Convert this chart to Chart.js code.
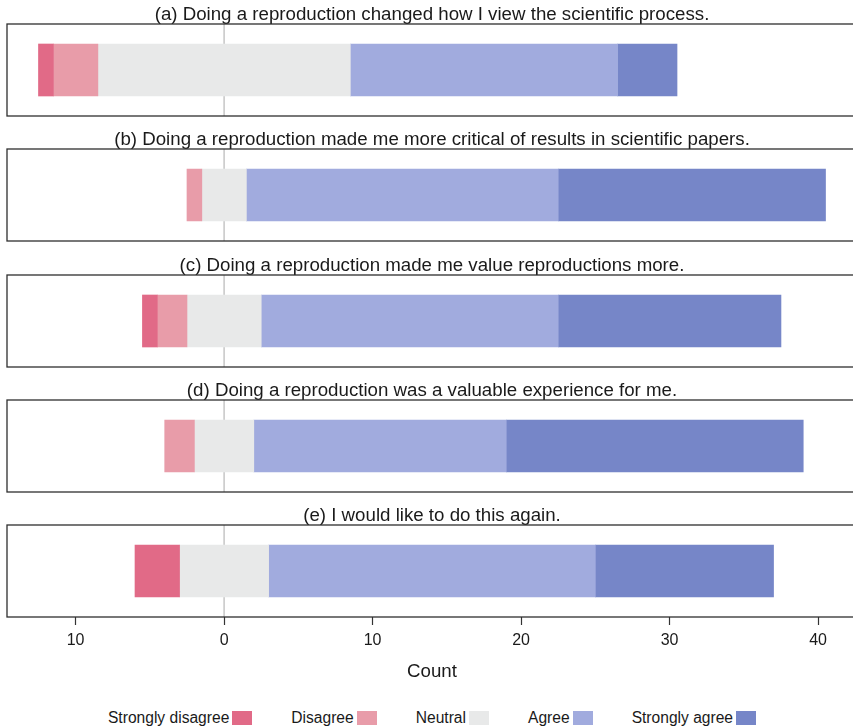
<!DOCTYPE html>
<html><head><meta charset="utf-8">
<script src="https://cdn.jsdelivr.net/npm/chart.js@4"></script>
<style>
html,body{margin:0;padding:0;width:853px;height:728px;overflow:hidden;background:#fff;}
.panel{position:absolute;left:0;width:870px;}
#legend{position:absolute;left:0;top:709px;width:864px;display:flex;justify-content:center;gap:39px;font:15.6px "Liberation Sans",Arial,sans-serif;color:#1a1a1a;line-height:18px;}
.item{display:flex;align-items:center;}
.sw{width:20px;height:14px;margin-left:3px;display:inline-block;}
</style></head><body>
<div id="wrap"></div>
<div id="legend"></div>
<script>
// ---- data ----
const categories = [
  '(a) Doing a reproduction changed how I view the scientific process.',
  '(b) Doing a reproduction made me more critical of results in scientific papers.',
  '(c) Doing a reproduction made me value reproductions more.',
  '(d) Doing a reproduction was a valuable experience for me.',
  '(e) I would like to do this again.'
];
const levels = ['Strongly disagree', 'Disagree', 'Neutral', 'Agree', 'Strongly agree'];
const stronglyDisagree = [1, 0, 1, 0, 3];
const disagree         = [3, 1, 2, 2, 0];
const neutral          = [17, 3, 5, 4, 6];
const agree            = [18, 21, 20, 17, 22];
const stronglyAgree    = [4, 18, 15, 20, 12];
const xTicks = [-10, 0, 10, 20, 30, 40];
const axisTitle = 'Count';

// ---- style ----
const colors = ['#e16a87', '#e89ca9', '#e8e9e9', '#a1abde', '#7686c8'];
const FONT = '"Liberation Sans", Arial, Helvetica, sans-serif';
const TXT = '#1a1a1a';

// x range like R (4% expansion of data range)
let lo = 0, hi = 0;
categories.forEach((c, i) => {
  lo = Math.min(lo, -(neutral[i] / 2 + disagree[i] + stronglyDisagree[i]));
  hi = Math.max(hi, neutral[i] / 2 + agree[i] + stronglyAgree[i]);
});
const ext = (hi - lo) * 0.04;
const xMin = lo - ext, xMax = hi + ext;

function segments(i) {
  const h = neutral[i] / 2;
  const counts = [stronglyDisagree[i], disagree[i], neutral[i], agree[i], stronglyAgree[i]];
  const seg = [
    [-(h + disagree[i] + stronglyDisagree[i]), -(h + disagree[i])],
    [-(h + disagree[i]), -h],
    [-h, h],
    [h, h + agree[i]],
    [h + agree[i], h + agree[i] + stronglyAgree[i]]
  ];
  return seg.map((s, k) => counts[k] > 0 ? s : null);
}

const frame = {
  id: 'frame',
  beforeDatasetsDraw(chart) {
    const {ctx, chartArea: a, scales: {x}} = chart;
    const px = x.getPixelForValue(0);
    ctx.save();
    ctx.strokeStyle = '#c6c6c6';
    ctx.lineWidth = 1.5;
    ctx.beginPath(); ctx.moveTo(px, a.top); ctx.lineTo(px, a.bottom); ctx.stroke();
    ctx.restore();
  },
  afterDraw(chart) {
    const {ctx, chartArea: a} = chart;
    ctx.save();
    ctx.strokeStyle = '#2e2e2e';
    ctx.lineWidth = 1.3;
    ctx.strokeRect(a.left, a.top, a.right - a.left, a.bottom - a.top);
    ctx.restore();
  }
};

const wrap = document.getElementById('wrap');
categories.forEach((title, i) => {
  const last = i === categories.length - 1;
  const div = document.createElement('div');
  div.className = 'panel';
  const boxTop = 24 + 125.25 * i;
  div.style.top = (boxTop - 24) + 'px';
  const h = last ? 196 : 118;
  const cv = document.createElement('canvas');
  cv.width = 870; cv.height = h;
  cv.style.width = '870px'; cv.style.height = h + 'px';
  div.appendChild(cv);
  wrap.appendChild(div);
  const seg = segments(i);
  new Chart(cv, {
    type: 'bar',
    data: {
      labels: [''],
      datasets: levels.map((lv, k) => ({
        label: lv,
        data: [seg[k]],
        backgroundColor: colors[k],
        borderWidth: 0,
        barThickness: 52,
        grouped: false
      }))
    },
    options: {
      indexAxis: 'y',
      responsive: false,
      animation: false,
      devicePixelRatio: 1,
      layout: {padding: {left: 7, right: 13, top: 0, bottom: last ? 0 : 2}},
      plugins: {
        legend: {display: false},
        tooltip: {enabled: false},
        title: {
          display: true, text: title, color: TXT,
          font: {family: FONT, size: 18.7, weight: 'normal', lineHeight: 1},
          padding: {top: 5.3, bottom: 0}
        }
      },
      scales: {
        y: {display: false, type: 'category'},
        x: {
          type: 'linear', min: xMin, max: xMax,
          display: last,
          afterBuildTicks(s) { s.ticks = xTicks.map(v => ({value: v})); },
          afterFit(s) { if (last) s.height = 80; },
          grid: {drawOnChartArea: false, tickLength: 8, tickColor: '#333', tickWidth: 1.2},
          border: {display: false},
          ticks: {
            color: TXT, padding: 6,
            font: {family: FONT, size: 16},
            callback: v => String(Math.abs(v))
          },
          title: {
            display: true, text: axisTitle, color: TXT,
            font: {family: FONT, size: 18.7},
            padding: {top: 0, bottom: 13.6}
          }
        }
      }
    },
    plugins: [frame]
  });
});

// legend (text then swatch, as in the original)
const leg = document.getElementById('legend');
levels.forEach((lv, k) => {
  const it = document.createElement('div');
  it.className = 'item';
  const t = document.createElement('span'); t.textContent = lv;
  const s = document.createElement('span'); s.className = 'sw'; s.style.background = colors[k];
  it.appendChild(t); it.appendChild(s);
  leg.appendChild(it);
});
</script>
</body></html>
